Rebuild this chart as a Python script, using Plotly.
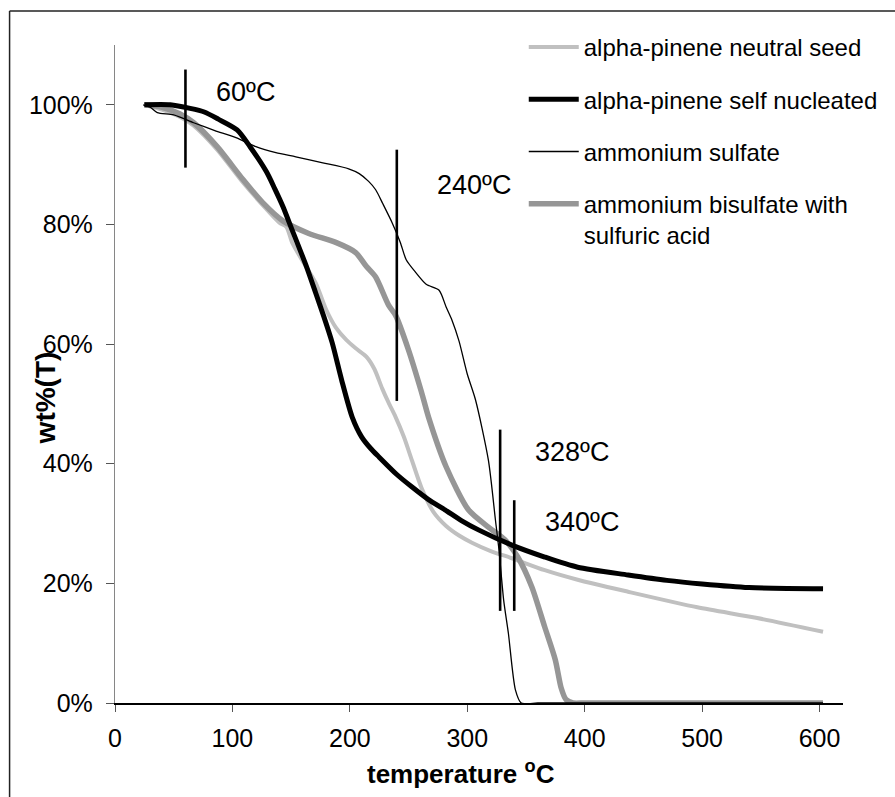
import plotly.graph_objects as go

# Thermogravimetric curves: temperature (degC) vs remaining weight (%)
neutral_T = [25, 40, 55, 67, 87, 109, 126, 140, 146, 151, 161, 171, 180, 188, 197, 205, 214, 221,
             227.5, 233, 239, 246, 253, 261, 271, 282, 293, 304, 320, 338, 366, 394, 437, 496, 547, 603]
neutral_W = [100, 99.2, 98, 96.5, 92.5, 87, 83.2, 80.3, 79.6, 76.9, 73.5, 70.2, 65.7, 62.8, 60.7, 59.3, 57.9, 55.8,
             52.6, 50.2, 47.8, 44.5, 40.5, 36, 32, 29.6, 28, 26.8, 25.4, 24.2, 22.2, 20.6, 18.6, 16, 14.2, 11.9]

selfnuc_T = [25, 47, 64, 76, 88, 104, 115, 129, 136, 143, 151, 163, 171, 178, 185, 193, 202, 210, 218, 225,
             240, 253, 267, 281, 295, 310, 338, 366, 394, 437, 470, 500, 540, 603]
selfnuc_W = [100, 100, 99.4, 98.8, 97.6, 95.8, 93, 88.8, 86, 83, 79, 73, 68.5, 64.5, 60.2, 54, 47.8, 44.5, 42.5, 41.1,
             38.2, 36.1, 34, 32.3, 30.5, 28.9, 26.4, 24.4, 22.7, 21.4, 20.5, 19.9, 19.3, 19.1]

sulfate_T = [24, 30, 36, 50, 67, 85, 103, 120, 137, 154, 177, 199, 208, 216, 222, 228, 236, 243, 248, 256, 265,
             276, 282, 287, 293, 300, 307, 318, 324, 327, 331, 335, 341, 346, 360, 380, 603]
sulfate_W = [100, 99.6, 98.7, 98.3, 97, 95.7, 94.5, 93, 92, 91.3, 90.3, 89.3, 88.5, 87.2, 85.8, 83.5, 80.3, 77,
             74.1, 72, 70, 69, 66.2, 64, 60.5, 55, 50.7, 40.6, 30.6, 25.6, 17.2, 11.7, 2.2, 0, 0, 0, 0]

bisulf_T = [25, 40, 55, 67, 87, 109, 126, 143, 165, 188, 205, 214, 222, 233, 239, 250, 261, 267, 282, 301,
            318, 332, 343, 355, 366, 375, 380, 384, 390, 400, 420, 603]
bisulf_W = [100, 99.6, 98.5, 97, 93, 87.5, 83.6, 80.6, 78.5, 77, 75.3, 73, 71.2, 66.5, 64.8, 59, 52, 47.8, 39.5, 32.3,
            29.4, 27.3, 24.4, 19.4, 12.7, 7.2, 2.5, 0.6, 0, 0, 0, 0]

# Marked transition temperatures and the vertical extent (wt%) of each marker
mark_T = [60, 240, 328, 340]
mark_lo = [89.5, 50.5, 15.4, 15.4]
mark_hi = [105.9, 92.5, 45.7, 33.9]
mark_text = ["60ºC", "240ºC", "328ºC", "340ºC"]
mark_label_xy = [(111, 102.2), (306, 86.6), (389, 42), (398, 30.3)]

x_ticks = [0, 100, 200, 300, 400, 500, 600]
y_ticks = [0, 20, 40, 60, 80, 100]
y_ticklabels = [f"{v}%" for v in y_ticks]

FONT = "Liberation Sans, Arial, sans-serif"

fig = go.Figure()

series = [
    # name, T, W, colour, width, legend rank
    ("alpha-pinene neutral seed", neutral_T, neutral_W, "#c0c0c0", 4, 1),
    ("ammonium bisulfate with<br>sulfuric acid", bisulf_T, bisulf_W, "#969696", 5.5, 4),
    ("ammonium sulfate", sulfate_T, sulfate_W, "#000000", 1.3, 3),
    ("alpha-pinene self nucleated", selfnuc_T, selfnuc_W, "#000000", 5, 2),
]
for name, T, W, col, w, rank in series:
    fig.add_trace(go.Scatter(
        x=T, y=W, mode="lines", name=name,
        line=dict(color=col, width=w, shape="spline", smoothing=0.7),
        legendgroup=f"g{rank}", legendrank=rank,
    ))

# vertical transition markers
for t, lo, hi in zip(mark_T, mark_lo, mark_hi):
    fig.add_trace(go.Scatter(
        x=[t, t], y=[lo, hi], mode="lines",
        line=dict(color="#000000", width=2.6),
        showlegend=False, hoverinfo="skip",
    ))

for txt, (lx, ly) in zip(mark_text, mark_label_xy):
    fig.add_annotation(x=lx, y=ly, text=txt, showarrow=False,
                       xanchor="center", yanchor="middle",
                       font=dict(family=FONT, size=27, color="#000"))

px = lambda v: (v - 115) / 732
py = lambda v: (703 - v) / 658

# axis titles
fig.add_annotation(xref="paper", yref="paper", x=px(463), y=py(772),
                   xanchor="center", yanchor="middle",
                   text="<b>temperature <sup>o</sup>C</b>", showarrow=False,
                   font=dict(family=FONT, size=26, color="#000"))
fig.add_annotation(xref="paper", yref="paper", x=px(45), y=py(398),
                   xanchor="center", yanchor="middle",
                   text="<b>wt%(T)</b>", textangle=-90, showarrow=False,
                   font=dict(family=FONT, size=28, color="#000"))

# outer chart frame (left and top edges)
fig.add_shape(type="line", xref="paper", yref="paper", x0=px(9), x1=px(9), y0=py(11), y1=py(800),
              line=dict(color="#222", width=1.5))
fig.add_shape(type="line", xref="paper", yref="paper", x0=px(9), x1=px(900), y0=py(11), y1=py(11),
              line=dict(color="#222", width=1.5))

fig.update_layout(
    width=895, height=797,
    margin=dict(l=115, r=48, t=45, b=94),
    paper_bgcolor="white", plot_bgcolor="white",
    font=dict(family=FONT, size=25, color="#000"),
    showlegend=True,
    legend=dict(
        x=px(526), y=py(25), xanchor="left", yanchor="top",
        bgcolor="rgba(0,0,0,0)", traceorder="grouped", tracegroupgap=18,
        itemwidth=50,
        font=dict(family=FONT, size=24, color="#000"), valign="top",
    ),
    xaxis=dict(
        range=[0, 620], tickvals=x_ticks, showgrid=False, zeroline=False,
        showline=True, linecolor="#000", linewidth=1.5, layer="below traces",
        ticks="outside", ticklen=7, tickcolor="#555", tickwidth=1.3,
        tickfont=dict(family=FONT, size=25), ticklabelstandoff=5,
    ),
    yaxis=dict(
        range=[0, 110], tickvals=y_ticks, ticktext=y_ticklabels, showgrid=False, zeroline=False,
        showline=True, linecolor="#868686", linewidth=1.3, layer="below traces",
        ticks="outside", ticklen=8, tickcolor="#555", tickwidth=1.3,
        tickfont=dict(family=FONT, size=25), ticklabelstandoff=8,
    ),
)

fig.write_html("out.html")
